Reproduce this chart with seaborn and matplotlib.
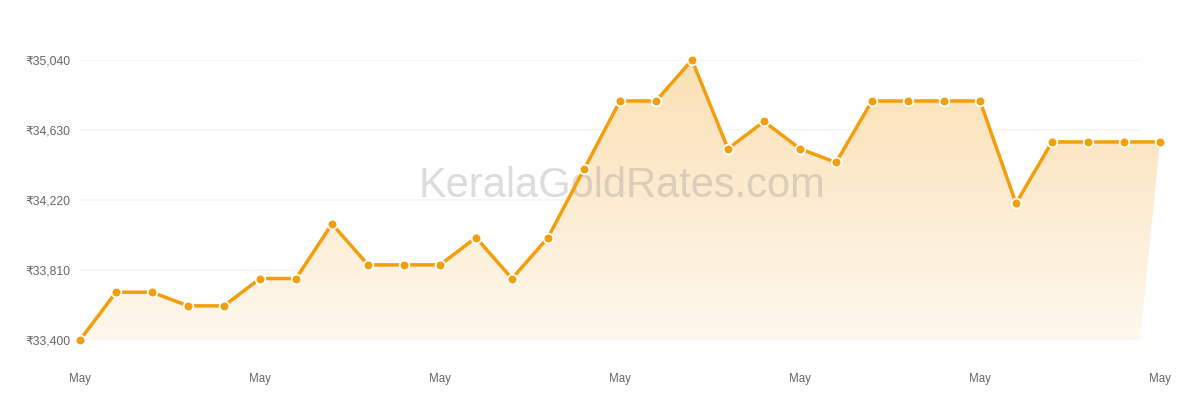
import numpy as np
import pandas as pd
import seaborn as sns
import matplotlib.pyplot as plt
from matplotlib.patches import Polygon
from matplotlib.colors import LinearSegmentedColormap

# daily gold rate for May (8 gram)
dias = list(range(1, 32))
precios = [33400, 33680, 33680, 33600, 33600, 33760, 33760, 34080, 33840, 33840,
           33840, 34000, 33760, 34000, 34400, 34800, 34800, 35040, 34520, 34680,
           34520, 34440, 34800, 34800, 34800, 34800, 34200, 34560, 34560, 34560,
           34560]
ticks_y = [33400, 33810, 34220, 34630, 35040]
etiquetas_y = ['₹33,400', '₹33,810', '₹34,220', '₹34,630', '₹35,040']
ticks_x = [0, 5, 10, 15, 20, 25, 30]
etiquetas_x = ['May'] * 7

df = pd.DataFrame({'idx': [d - 1 for d in dias], 'precio': precios})

naranja = '#f59e0b'
fin_grid = (1140 - 80) / 36   # grid stops a bit before last point

sns.set_style('white')
plt.rcParams['font.family'] = ['Liberation Sans', 'DejaVu Sans']

fig = plt.figure(figsize=(12, 4), dpi=100)
ax = fig.add_axes([80 / 1200, 60 / 400, 1080 / 1200, 280 / 400])
ax.set_xlim(0, 30)
ax.set_ylim(33400, 35040)

# light grid lines
ax.hlines(ticks_y, 0, fin_grid, color='#f6f6f6', linewidth=1.2, zorder=0)

# gradient fill under the line
verts = list(zip(df['idx'], df['precio'])) + [(fin_grid, 33400), (0, 33400)]
poly = Polygon(verts, closed=True, facecolor='none', edgecolor='none')
ax.add_patch(poly)
cmap = LinearSegmentedColormap.from_list('oro', ['#fef8ee', '#fbe0b4'])
grad = np.linspace(0, 1, 256).reshape(-1, 1)
im = ax.imshow(grad, cmap=cmap, aspect='auto', origin='lower',
               extent=[0, 30, 33400, 35040], zorder=1)
im.set_clip_path(poly)

# watermark
ax.text(15.05, 34300, 'KeralaGoldRates.com', fontsize=30, color='#8c8c8c', alpha=0.3,
        ha='center', va='center', zorder=2)

sns.lineplot(data=df, x='idx', y='precio', ax=ax, color=naranja, linewidth=2.5,
             marker='o', markersize=7, markerfacecolor=naranja,
             markeredgecolor='white', markeredgewidth=1.3, zorder=3, clip_on=False)

ax.set_yticks(ticks_y)
ax.set_yticklabels(etiquetas_y)
ax.set_xticks(ticks_x)
ax.set_xticklabels(etiquetas_x)
ax.tick_params(axis='y', length=0, pad=7, labelsize=8.8, labelcolor='#666666')
ax.tick_params(axis='x', length=0, pad=24, labelsize=8.3, labelcolor='#666666')
ax.set_xlabel('')
ax.set_ylabel('')
sns.despine(ax=ax, left=True, bottom=True)

fig.savefig('out.png', dpi=100)
